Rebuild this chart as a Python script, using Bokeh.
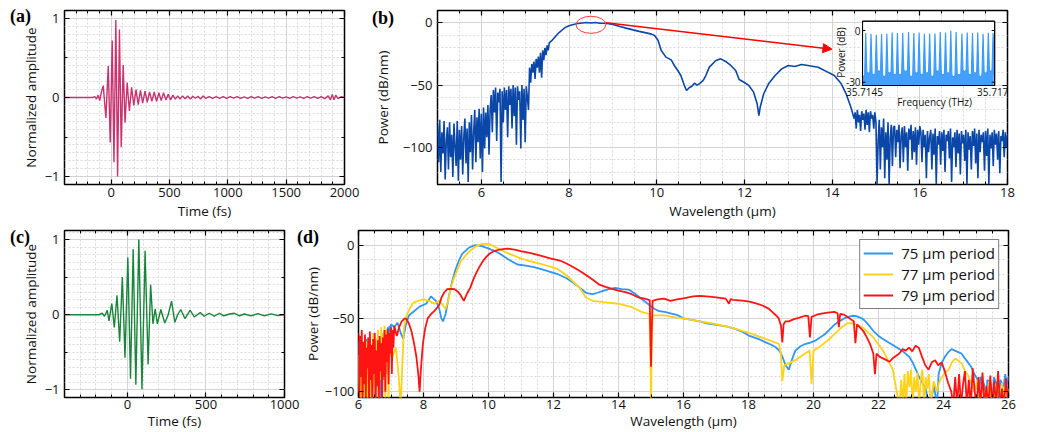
import numpy as np
from bokeh.plotting import figure
from bokeh.layouts import column, row
from bokeh.models import (LinearAxis, FixedTicker, SingleIntervalTicker, Div,
                          Arrow, NormalHead, Range1d)
from bokeh.embed import file_html
from bokeh.resources import INLINE
from bokeh.core.properties import value

# ---------------------------------------------------------------- data
# (a) time-domain field, pulse 1 (fs, normalized amplitude) - extrema
A_T = [-400, -160, -140, -126, -112, -98, -85,
       -68, -45, -25, -8, 9, 24, 40, 55, 71, 86,
       103, 119, 137, 156, 175, 194, 213, 232, 251, 270,
       290, 309, 329, 349, 369, 389, 409, 429, 449, 469,
       489, 509, 529, 550, 571, 590, 612, 634, 656, 678,
       700, 722, 744, 766, 788, 810, 840, 870, 900, 930,
       960, 990, 1020, 1050, 1080, 1110, 1140, 1170, 1200, 1230,
       1260, 1290, 1320, 1350, 1380, 1410, 1440, 1470, 1500, 1530,
       1560, 1590, 1620, 1650, 1680, 1710, 1740, 1770, 1800, 1830,
       1860, 1880, 1895, 1910, 1925, 1945, 1970, 2000]
A_AMP = [0, 0, 0.01, -0.02, 0.03, -0.04, 0.06,
         0.15, -0.26, 0.40, -0.57, 0.72, -0.82, 0.98, -1.0, 0.86, -0.63,
         0.41, -0.32, 0.19, -0.17, 0.13, -0.10, 0.10, -0.09, 0.09, -0.07,
         0.08, -0.06, 0.07, -0.05, 0.07, -0.05, 0.06, -0.04, 0.06, -0.03,
         0.04, -0.03, 0.03, -0.02, 0.02, -0.02, 0.02, -0.015, 0.02, -0.02,
         0.015, -0.01, 0.015, -0.02, 0.02, -0.01, 0.01, -0.01, 0.01, -0.01,
         0.012, -0.01, 0.01, -0.008, 0.01, -0.01, 0.008, -0.01, 0.01, -0.008,
         0.01, -0.01, 0.008, -0.008, 0.01, -0.01, 0.01, -0.008, 0.008, -0.01,
         0.01, -0.008, 0.008, -0.01, 0.01, -0.008, 0.01, -0.01, 0.012, -0.015,
         0.02, -0.03, 0.04, -0.03, 0.03, -0.015, 0.01, 0]

# (c) time-domain field, pulse 2
C_T = [-400, -180, -160, -145, -128, -117, -99, -83, -66, -49,
       -32, -15, 3, 20, 37, 54, 73, 93, 113, 132,
       148, 163, 177, 191, 213, 238, 260, 281, 302, 320,
       340, 366, 400, 426, 464, 489, 521, 553, 585, 613,
       650, 681, 713, 745, 787, 830, 872, 915, 957, 1000]
C_AMP = [0, 0, 0.02, -0.02, 0.06, -0.08, 0.15, -0.17, 0.26, -0.36,
         0.50, -0.57, 0.76, -0.85, 0.87, -0.93, 1.0, -0.99, 0.85, -0.66,
         0.40, -0.12, 0.08, -0.12, 0.07, -0.11, 0.0, 0.18, -0.10, 0.0,
         0.07, -0.05, 0.06, -0.03, 0.03, -0.02, 0.02, -0.02, 0.02, -0.015,
         0.01, 0.02, -0.015, 0.01, -0.015, 0.015, -0.015, 0.012, -0.012, 0.0]

# (b) spectrum (um, dB/nm); noisy stretches are sampled every NOISE_STEP um
NOISE_STEP = 0.025
B_NOISE1_START = 5.0
B_NOISE1 = [-82, -112, -78, -120, -88, -105, -79, -126, -95, -84, -118, -80, -108, -90, -124, -81,
            -99, -115, -79, -127, -86, -110, -83, -122, -92, -77, -113, -85, -128, -80, -104, -74,
            -118, -88, -70, -112, -76, -96, -69, -109, -73, -120, -68, -101, -72, -92, -66, -106, -70]
B_NOISE2_START = 6.225
B_NOISE2 = [-58, -88, -54, -72, -52, -95, -56, -64, -53, -128, -55, -80, -52, -70, -54, -92, -51,
            -66, -53, -85, -50, -75, -52, -98, -51, -62, -55, -101, -50, -78, -53, -96, -51, -60]
B_NOISE3_START = 7.075
B_NOISE3 = [-70, -36, -48, -33, -40, -31, -45, -29, -36, -27, -40, -24, -44, -22, -30, -20, -26,
            -18, -22, -16]
B_SMOOTH = [(7.6, -14.5), (7.65, -12.5), (7.7, -10.5), (7.75, -8.5), (7.8, -7), (7.85, -5.5),
            (7.9, -4), (7.95, -3), (8.0, -2.2), (8.1, -1.2), (8.2, -0.5), (8.3, 0), (8.4, 0.3),
            (8.5, 0), (8.6, 0.4), (8.7, -0.2), (8.8, -0.3), (8.9, -0.6), (9.0, -1.3), (9.16, -2.9),
            (9.3, -4.2), (9.46, -5.6), (9.6, -6.8), (9.76, -8), (9.88, -9), (9.95, -10.1),
            (10.03, -14), (10.1, -22), (10.21, -27.5), (10.33, -29.7), (10.4, -34.2),
            (10.48, -38.3), (10.55, -42.3), (10.63, -50.3), (10.68, -54.4), (10.74, -52.2),
            (10.8, -51), (10.86, -48.5), (10.92, -50), (10.97, -49), (11.06, -46.3),
            (11.12, -42.3), (11.2, -35.6), (11.35, -30.2), (11.46, -28.9), (11.57, -31),
            (11.69, -34.2), (11.8, -38.3), (11.88, -45.5), (11.99, -47.7), (12.1, -50.3),
            (12.21, -55.7), (12.29, -65), (12.33, -74.5), (12.36, -67.8), (12.44, -57),
            (12.55, -49), (12.7, -42.3), (12.85, -37), (13.0, -34.2), (13.15, -35), (13.3, -33.4),
            (13.45, -34.2), (13.68, -35.6), (13.9, -39.6), (14.05, -42.3), (14.2, -48.5),
            (14.32, -57), (14.44, -69.1), (14.5, -77)]
B_NOISE4_START = 14.525
B_NOISE4 = [-72, -85, -70, -80, -74, -87, -71, -78, -73, -86, -70, -82, -72, -88, -71, -77, -74,
            -85, -72, -80]
B_NOISE5_START = 15.025
B_NOISE5 = [-130, -95, -78, -118, -84, -100, -77, -125, -88, -110, -80, -130, -92, -82, -115, -84,
            -83, -108, -86, -96, -82, -117, -90, -84, -112, -83, -100, -88, -119, -85, -94, -82,
            -110, -87, -104, -84, -114, -86, -98, -83,
            -88, -112, -86, -100, -90, -125, -87, -104, -92, -86, -118, -89, -106, -85, -130, -91,
            -98, -87, -114, -88, -103, -86, -120, -90, -95, -87, -109, -85, -128, -92, -100, -88,
            -116, -86, -105, -89, -122, -87, -97, -90, -111, -86, -130, -88, -102, -91, -118, -87,
            -99, -85, -113, -89, -125, -86, -104, -90, -96, -88, -119, -87, -107, -85, -130, -90,
            -101, -88, -115, -86, -98, -89, -110, -87, -121, -91, -95, -86, -108, -88, -100, -90]

# (b) inset: frequency comb (THz, dB)
COMB_F = [35.71456, 35.71466, 35.71476, 35.71486, 35.71496, 35.71506, 35.71516, 35.71526,
          35.71537, 35.71547, 35.71557, 35.71567, 35.71577, 35.71587, 35.71597, 35.71607,
          35.71617, 35.71627, 35.71638, 35.71648, 35.71658, 35.71668, 35.71678, 35.71688,
          35.71697]
COMB_PEAK = [-1.5, -1.9, -2.4, -2.0, -1.9, -1.1, -1.5, -1.3, -0.9, -1.5, -1.1, -1.9, -1.7,
             -1.7, -0.9, -1.1, -0.2, -0.9, -1.7, -1.1, -1.5, -1.1, -1.9, -1.3, -1.5]
COMB_FLOOR = [-27, -25, -26, -24, -27, -25, -26, -26, -24, -27, -25, -26, -25, -27, -24, -26,
              -25, -27, -26, -24, -26, -25, -27, -25, -24, -26]

# (d) spectra of three poling periods (um, dB/nm)
D75_NOISE = [-66, -95, -72, -110, -68, -88, -75, -110, -70, -92, -64, -110, -78, -86, -66, -100,
             -71, -110, -69, -90, -74, -110, -65, -97, -70, -85, -63, -110, -68, -80, -60, -92,
             -62, -75, -58, -88, -56, -70, -55, -66, -54]
D77_NOISE = [-75, -104, -80, -110, -70, -96, -85, -110, -72, -100, -66, -110, -78, -92, -62,
             -110, -74, -104, -60, -95, -70, -110, -64, -88, -58, -110, -66, -92, -56, -104, -60,
             -85, -55, -110, -58, -80, -62, -110, -66, -76, -70]
D79_NOISE = [-60, -110, -62, -90, -58, -110, -66, -95, -61, -104, -70, -84, -63, -110, -59, -92,
             -68, -110, -64, -88, -60, -110, -72, -96, -65, -110, -62, -86, -67, -110, -63, -90,
             -58, -100, -61, -80, -57, -95, -60, -74, -56, -88, -58, -70, -55]
D_NOISE_START = 6.0

D75_POINTS = [(7.1, -56), (7.2, -53), (7.3, -60), (7.38, -64), (7.45, -55), (7.55, -48),
              (7.68, -45.6), (7.88, -42), (8.08, -40), (8.23, -35), (8.38, -38), (8.48, -43),
              (8.55, -50), (8.6, -52), (8.68, -47), (8.78, -35), (8.88, -25), (8.98, -17),
              (9.1, -10), (9.19, -6), (9.39, -1.8), (9.59, 0), (9.79, -0.7), (9.99, -2.2),
              (10.29, -5), (10.59, -9.4), (10.89, -13.2), (11.15, -14), (11.4, -15),
              (11.65, -16.5), (11.9, -18.2), (12.15, -20), (12.4, -22.6), (12.6, -25.5),
              (12.8, -29), (13.0, -32.5), (13.2, -33.5), (13.35, -32.5), (13.5, -31.4),
              (13.7, -30), (13.9, -29.2), (14.1, -30), (14.31, -30.3), (14.5, -33),
              (14.71, -36.8), (14.9, -40), (15.1, -43.4), (15.25, -45), (15.42, -45.6),
              (15.6, -46.5), (15.82, -47.8), (16.0, -50), (16.25, -51), (16.5, -52),
              (16.75, -53.5), (17.03, -54.4), (17.3, -55.5), (17.53, -56.6), (17.8, -59),
              (18.03, -62), (18.3, -64), (18.53, -66.4), (18.7, -68), (18.84, -69.7),
              (18.95, -72), (19.04, -76), (19.14, -82), (19.24, -85), (19.34, -78), (19.44, -72),
              (19.6, -69), (19.74, -67.5), (19.9, -66.5), (20.04, -65.4), (20.2, -63),
              (20.34, -61), (20.5, -57.5), (20.64, -54.4), (20.8, -52), (20.94, -50),
              (21.07, -49), (21.2, -48.2), (21.32, -48.5), (21.45, -49.6), (21.55, -51),
              (21.65, -53.3), (21.75, -56), (21.85, -58.8), (22.0, -62), (22.15, -64.3),
              (22.35, -67), (22.55, -69.7), (22.75, -72.5), (22.95, -76.3), (23.05, -80),
              (23.15, -85), (23.25, -90), (23.35, -93.9), (23.45, -98), (23.55, -110),
              (23.6, -110), (23.7, -95), (23.8, -110), (23.85, -88), (23.95, -80), (24.05, -76),
              (24.15, -73), (24.25, -71), (24.35, -72), (24.45, -73), (24.55, -74), (24.65, -77),
              (24.75, -80), (24.85, -83), (24.95, -88), (25.05, -92), (25.1, -98), (25.15, -90),
              (25.25, -95), (25.3, -110), (25.35, -92), (25.45, -94), (25.5, -110), (25.55, -90),
              (25.65, -96), (25.7, -110), (25.75, -92), (25.85, -97), (25.9, -88), (25.95, -95),
              (26.0, -90)]
D77_POINTS = [(7.05, -76), (7.15, -70), (7.22, -85), (7.3, -110), (7.35, -80), (7.4, -56),
              (7.48, -48), (7.58, -43), (7.7, -39), (7.83, -38), (8.0, -37), (8.18, -38),
              (8.33, -40), (8.48, -38), (8.6, -41), (8.68, -43.4), (8.76, -38), (8.83, -30),
              (8.93, -23), (9.04, -17), (9.15, -11), (9.29, -7.2), (9.45, -3.5), (9.59, -1.1),
              (9.75, 0.5), (9.89, 1.1), (10.05, 0.5), (10.19, -1.1), (10.4, -3.5), (10.59, -5.5),
              (10.99, -9), (11.3, -11), (11.6, -12.7), (12.1, -16), (12.3, -19), (12.5, -22.6),
              (12.8, -29), (13.0, -35.7), (13.2, -38), (13.6, -39), (14.0, -40), (14.41, -42.3),
              (14.71, -45.6), (14.95, -47), (14.98, -70), (15.0, -110), (15.02, -70),
              (15.05, -48), (15.42, -48), (15.82, -49.6), (16.0, -50), (16.5, -52), (17.03, -54),
              (17.53, -56.6), (18.03, -60), (18.53, -64), (18.94, -67.5), (19.0, -75),
              (19.04, -92.8), (19.1, -82), (19.24, -80.7), (19.44, -78.5), (19.74, -74),
              (19.88, -72), (19.94, -95), (20.0, -72), (20.24, -68.6), (20.54, -63),
              (20.84, -56.6), (21.04, -53.3), (21.24, -53.3), (21.54, -56.6), (21.84, -63),
              (22.14, -72), (22.44, -85), (22.64, -110), (22.7, -92), (22.75, -110), (22.8, -88),
              (22.85, -110), (22.9, -86), (22.95, -97), (23.0, -85), (23.05, -110), (23.1, -90),
              (23.15, -100), (23.2, -87), (23.25, -110), (23.3, -92), (23.35, -85), (23.4, -110),
              (23.45, -90), (23.5, -98), (23.55, -88), (23.6, -110), (23.7, -93), (23.8, -100),
              (23.86, -94), (23.95, -90), (24.05, -87), (24.16, -85), (24.26, -80),
              (24.36, -77.4), (24.46, -79), (24.56, -80.7), (24.66, -86), (24.76, -89),
              (24.86, -95), (24.96, -100), (25.05, -92), (25.1, -110), (25.2, -95), (25.3, -110),
              (25.4, -93), (25.5, -110), (25.6, -96), (25.7, -110), (25.8, -94), (25.9, -110),
              (26.0, -98)]
D79_POINTS = [(7.18, -62), (7.25, -56), (7.33, -52), (7.42, -50), (7.48, -50.5), (7.56, -54),
              (7.63, -58.8), (7.7, -66), (7.78, -76), (7.84, -88), (7.88, -100), (7.92, -85),
              (7.98, -67.5), (8.05, -57), (8.13, -50), (8.23, -47), (8.33, -45), (8.48, -41),
              (8.55, -36), (8.63, -32.5), (8.73, -30), (8.83, -29.8), (8.95, -30), (9.04, -31.4),
              (9.14, -34), (9.24, -38), (9.34, -33), (9.44, -29), (9.54, -23), (9.64, -18.2),
              (9.74, -14), (9.84, -10.5), (9.94, -7.8), (10.04, -5.7), (10.15, -4.3),
              (10.29, -3.3), (10.45, -2.7), (10.59, -2.4), (10.8, -3), (10.99, -4), (11.3, -5.5),
              (11.6, -7.2), (11.9, -9), (12.2, -10.5), (12.4, -12.5), (12.6, -14.9),
              (12.8, -17.5), (13.0, -20.4), (13.2, -23.5), (13.41, -27), (13.6, -28.5),
              (13.8, -29.8), (14.0, -31), (14.21, -32), (14.41, -33.5), (14.61, -35.7),
              (14.8, -36.5), (14.96, -37.5), (14.98, -60), (15.0, -83), (15.02, -60),
              (15.05, -38), (15.2, -37), (15.4, -36.5), (15.6, -38), (15.8, -37), (16.0, -36.4),
              (16.3, -35), (16.5, -34.6), (16.8, -35.2), (17.0, -35.7), (17.3, -36.5),
              (17.4, -40), (17.45, -36.8), (17.53, -37.3), (17.8, -37.8), (18.03, -38.6),
              (18.23, -39.8), (18.43, -41.2), (18.63, -43.5), (18.73, -45.6), (18.85, -48),
              (18.93, -50), (19.0, -55), (19.04, -66.4), (19.08, -54), (19.14, -52),
              (19.24, -52), (19.4, -50.5), (19.54, -49.6), (19.74, -48.2), (19.84, -48.5),
              (19.89, -63), (19.94, -49), (20.1, -47.5), (20.24, -46.7), (20.44, -46),
              (20.64, -45.6), (20.74, -46.5), (20.78, -56), (20.82, -47), (20.94, -47.5),
              (21.04, -48.9), (21.14, -50.5), (21.24, -52), (21.29, -67), (21.34, -54),
              (21.44, -56.5), (21.54, -58.8), (21.64, -63), (21.74, -67.5), (21.84, -74),
              (21.89, -88), (21.94, -74), (22.04, -76.3), (22.2, -78), (22.34, -79.6),
              (22.45, -77), (22.64, -74), (22.74, -71), (22.84, -72), (22.94, -70),
              (23.04, -72.5), (23.14, -68.6), (23.24, -70), (23.34, -76.3), (23.44, -82),
              (23.54, -85), (23.64, -80), (23.74, -78.5), (23.84, -82), (23.94, -80),
              (24.04, -86), (24.14, -93.9), (24.24, -100), (24.3, -110), (24.36, -90),
              (24.42, -110), (24.48, -88), (24.54, -110), (24.6, -95), (24.66, -86),
              (24.72, -110), (24.78, -92), (24.84, -110), (24.9, -84), (24.96, -100),
              (25.02, -110), (25.08, -90), (25.14, -110), (25.2, -87), (25.26, -110),
              (25.32, -96), (25.38, -110), (25.44, -89), (25.5, -110), (25.56, -93),
              (25.62, -110), (25.68, -86), (25.74, -110), (25.8, -98), (25.86, -110),
              (25.92, -91), (26.0, -110)]
D_LABELS = ["75 \u03bcm period", "77 \u03bcm period", "79 \u03bcm period"]
PANEL_LETTERS = ["(a)", "(b)", "(c)", "(d)"]

# ---------------------------------------------------------------- style
FONT = "Open Sans"
TICK_FS = "13px"
LAB_FS = "13.5px"
TXT = "#111111"
COL_A = "#C9336F"
COL_B = "#0A47A8"
COL_C = "#17853A"
COL_INSET = "#3A9BFF"
D_COLORS = ["#2F96F3", "#FFD21A", "#FF1414"]
GRID = "#d4d4d4"
GRID_MINOR = "#d9d9d9"
LETTER_POS = [(10, 7), (372, 9), (10, 228), (297, 228)]   # page pixels (left, top)


def seg(start, vals):
    return [round(start + i * NOISE_STEP, 4) for i in range(len(vals))]


def style_axis(ax, show, label=None, tick_standoff=3, label_standoff=2):
    ax.axis_line_color = None
    ax.major_tick_in = 5
    ax.major_tick_out = 0
    ax.minor_tick_in = 3
    ax.minor_tick_out = 0
    ax.major_tick_line_color = "black"
    ax.minor_tick_line_color = "black"
    ax.major_tick_line_width = 1.2
    ax.minor_tick_line_width = 1
    ax.major_label_text_font = FONT
    if show:
        ax.major_label_text_color = TXT
        ax.major_label_text_font_size = TICK_FS
        ax.major_label_standoff = tick_standoff
    else:
        ax.major_label_text_color = None
        ax.major_label_text_font_size = "0px"
        ax.major_label_standoff = 0
    if label:
        ax.axis_label = label
        ax.axis_label_text_font = FONT
        ax.axis_label_text_font_size = LAB_FS
        ax.axis_label_text_font_style = "normal"
        ax.axis_label_text_color = TXT
        ax.axis_label_standoff = label_standoff


def make_panel(width, height, xr, yr, xticker, yticker, ygrid_ticker, borders,
               xlabel, ylabel, ytick_standoff=5, ylabel_standoff=2,
               xtick_standoff=3, xlabel_standoff=2):
    p = figure(width=width, height=height, x_range=xr, y_range=yr,
               output_backend="svg", toolbar_location=None,
               min_border_left=borders[0], min_border_right=borders[1],
               min_border_top=borders[2], min_border_bottom=borders[3])
    p.outline_line_color = "black"
    p.outline_line_width = 1.5
    p.background_fill_color = "white"
    p.border_fill_color = "white"
    p.xaxis.ticker = xticker
    p.yaxis.ticker = yticker
    style_axis(p.xaxis[0], True, xlabel, xtick_standoff, xlabel_standoff)
    style_axis(p.yaxis[0], True, ylabel, ytick_standoff, ylabel_standoff)
    top = LinearAxis(ticker=xticker)
    style_axis(top, False)
    p.add_layout(top, "above")
    right = LinearAxis(ticker=yticker)
    style_axis(right, False)
    p.add_layout(right, "right")
    p.xgrid.grid_line_color = GRID
    p.xgrid.minor_grid_line_color = GRID_MINOR
    p.xgrid.minor_grid_line_dash = "2 2"
    p.ygrid.ticker = ygrid_ticker
    p.ygrid.grid_line_color = GRID
    p.ygrid.minor_grid_line_color = GRID_MINOR
    p.ygrid.minor_grid_line_dash = "2 2"
    return p


def letter_div(text, left, top):
    css = (":host { position: absolute !important; left: %dpx !important; top: %dpx !important;"
           " z-index: 20; margin: 0; padding: 0; }" % (left, top))
    html = ("<span style=\"font-family: 'Liberation Serif', 'Times New Roman', serif !important;"
            " font-weight: bold; font-size: 18px; line-height: 1; color: black;\">%s</span>" % text)
    return Div(text=html, stylesheets=[css], width=30, height=22)


amp_grid = FixedTicker(ticks=[-1, 0, 1], minor_ticks=[round(v, 2) for v in np.arange(-1.1, 1.15, 0.1)])

# ---------------------------------------------------------------- (a)
pa = make_panel(370, 225, (-400, 2000), (-1.1, 1.1),
                SingleIntervalTicker(interval=500, num_minor_ticks=5),
                FixedTicker(ticks=[-1, 0, 1], minor_ticks=[-0.5, 0.5]),
                amp_grid, (64, 26, 10, 41), "Time (fs)", "Normalized amplitude")
pa.line(A_T, A_AMP, line_color=COL_A, line_width=1.4)

# ---------------------------------------------------------------- (b)
b_wl = (seg(B_NOISE1_START, B_NOISE1) + seg(B_NOISE2_START, B_NOISE2) + seg(B_NOISE3_START, B_NOISE3)
        + [w for w, _ in B_SMOOTH] + seg(B_NOISE4_START, B_NOISE4) + seg(B_NOISE5_START, B_NOISE5))
b_db = (B_NOISE1 + B_NOISE2 + B_NOISE3 + [d for _, d in B_SMOOTH] + B_NOISE4 + B_NOISE5)

db_grid = FixedTicker(ticks=[-100, -50, 0], minor_ticks=list(range(-130, 11, 10)))
pb = make_panel(676, 225, (5, 18), (-130, 10),
                SingleIntervalTicker(interval=2, num_minor_ticks=4),
                FixedTicker(ticks=[-100, -50, 0]),
                db_grid, (59, 39, 10, 41), "Wavelength (\u03bcm)", "Power (dB/nm)",
                ylabel_standoff=8)
pb.line(b_wl, b_db, line_color=COL_B, line_width=1.6)

# highlighted region and arrow towards the inset
HL_X, HL_Y, HL_W, HL_H = 8.5, -1.5, 0.68, 13.7
pb.ellipse(x=[HL_X], y=[HL_Y], width=[HL_W], height=[HL_H], fill_color=None,
           line_color="#ff3b3b", line_width=1)

# inset placed in a sub-box of the frame (fractions of the frame)
INSET_BOX = (0.7457, 0.9775, 0.569, 0.9385)
INSET_X = (35.7145, 35.717)
INSET_Y = (-31.9, 5.4)
fx0, fx1, fy0, fy1 = INSET_BOX
sx = (INSET_X[1] - INSET_X[0]) / (fx1 - fx0)
sy = (INSET_Y[1] - INSET_Y[0]) / (fy1 - fy0)
pb.extra_x_ranges = {"ix": Range1d(INSET_X[0] - fx0 * sx, INSET_X[0] - fx0 * sx + sx)}
pb.extra_y_ranges = {"iy": Range1d(INSET_Y[0] - fy0 * sy, INSET_Y[0] - fy0 * sy + sy)}
px_x = sx / 578.0   # inset x-units per pixel
px_y = sy / 174.0   # inset y-units per pixel

arrow_end_x = 5 + (fx0 - 31.0 / 578.0) * 13
arrow_end_y = -130 + 0.7776 * 140
pb.add_layout(Arrow(end=NormalHead(size=9, fill_color="red", line_color="red", line_width=1),
                    x_start=HL_X + HL_W / 2, y_start=HL_Y + 1.6, x_end=arrow_end_x, y_end=arrow_end_y,
                    line_color="red", line_width=1.5))

pb.quad(left=[INSET_X[0]], right=[INSET_X[1]], bottom=[INSET_Y[0]], top=[INSET_Y[1]],
        fill_color="white", line_color="black", line_width=1,
        x_range_name="ix", y_range_name="iy")
HW = 0.00002
cx, cy = [INSET_X[0] + 0.000004], [COMB_FLOOR[0]]
for i, (f, pk) in enumerate(zip(COMB_F, COMB_PEAK)):
    cx += [f - HW, f, f + HW]
    cy += [COMB_FLOOR[i] + 1, pk, COMB_FLOOR[i + 1] + 1]
    nxt = COMB_F[i + 1] if i + 1 < len(COMB_F) else INSET_X[1] - 0.000004
    cx.append((f + nxt) / 2)
    cy.append(COMB_FLOOR[i + 1])
pb.varea(x=cx, y1=[INSET_Y[0]] * len(cx), y2=cy, fill_color=COL_INSET, fill_alpha=0.95,
         x_range_name="ix", y_range_name="iy")
pb.line(cx, cy, line_color=COL_INSET, line_width=1.2, x_range_name="ix", y_range_name="iy")
pb.quad(left=[INSET_X[0]], right=[INSET_X[1]], bottom=[INSET_Y[0]], top=[INSET_Y[1]],
        fill_color=None, line_color="black", line_width=1,
        x_range_name="ix", y_range_name="iy")
for tv in (0, -30):
    pb.segment(x0=[INSET_X[0]], x1=[INSET_X[0] + 3 * px_x], y0=[tv], y1=[tv],
               line_color="black", line_width=1, x_range_name="ix", y_range_name="iy")
    pb.segment(x0=[INSET_X[1]], x1=[INSET_X[1] - 3 * px_x], y0=[tv], y1=[tv],
               line_color="black", line_width=1, x_range_name="ix", y_range_name="iy")
ISZ = "10px"
pb.text(x=[INSET_X[0] - 2 * px_x] * 2, y=[0, -30], text=["0", "-30"], text_align="right",
        text_baseline="middle", text_font=value(FONT), text_font_size=ISZ, text_color=TXT,
        x_range_name="ix", y_range_name="iy")
pb.text(x=[INSET_X[0] + 2 * px_x, INSET_X[1] - 2 * px_x], y=[INSET_Y[0] - 7 * px_y] * 2,
        text=["35.7145", "35.717"], text_align="center", text_baseline="middle",
        text_font=value(FONT), text_font_size=ISZ, text_color=TXT,
        x_range_name="ix", y_range_name="iy")
pb.text(x=[INSET_X[0] + 0.545 * (INSET_X[1] - INSET_X[0])], y=[INSET_Y[0] - 17 * px_y],
        text=["Frequency (THz)"], text_align="center", text_baseline="middle",
        text_font=value(FONT), text_font_size=ISZ, text_color=TXT,
        x_range_name="ix", y_range_name="iy")
pb.text(x=[INSET_X[0] - 22 * px_x], y=[-12.8], text=["Power (dB)"], angle=np.pi / 2,
        text_align="center", text_baseline="middle", text_font=value(FONT),
        text_font_size=ISZ, text_color=TXT, x_range_name="ix", y_range_name="iy")

# ---------------------------------------------------------------- (c)
pc = make_panel(300, 207, (-400, 1000), (-1.1, 1.12),
                SingleIntervalTicker(interval=500, num_minor_ticks=5),
                FixedTicker(ticks=[-1, 0, 1], minor_ticks=[-0.5, 0.5]),
                amp_grid, (64, 16, 5, 28), "Time (fs)", "Normalized amplitude",
                xtick_standoff=2, xlabel_standoff=0)
pc.line(C_T, C_AMP, line_color=COL_C, line_width=1.4)

# ---------------------------------------------------------------- (d)
db_grid_d = FixedTicker(ticks=[-100, -50, 0], minor_ticks=list(range(-100, 11, 10)))
pd_ = make_panel(746, 207, (6, 26), (-104, 10),
                 SingleIntervalTicker(interval=2, num_minor_ticks=4),
                 FixedTicker(ticks=[-100, -50, 0]),
                 db_grid_d, (44, 38, 5, 28), "Wavelength (\u03bcm)", "Power (dB/nm)",
                 ytick_standoff=4, ylabel_standoff=0, xtick_standoff=2, xlabel_standoff=0)
for noise, pts, col, lab in zip((D75_NOISE, D77_NOISE, D79_NOISE),
                                (D75_POINTS, D77_POINTS, D79_POINTS), D_COLORS, D_LABELS):
    xs = seg(D_NOISE_START, noise) + [w for w, _ in pts]
    ys = noise + [d for _, d in pts]
    pd_.line(xs, ys, line_color=col, line_width=1.8, legend_label=lab)
lg = pd_.legend[0]
lg.location = "top_right"
lg.border_line_color = "black"
lg.border_line_width = 1.5
lg.background_fill_color = "white"
lg.background_fill_alpha = 1
lg.label_text_font = FONT
lg.label_text_font_size = "15px"
lg.label_text_color = TXT
lg.glyph_width = 30
lg.glyph_height = 18
lg.label_height = 18
lg.label_standoff = 8
lg.padding = 3
lg.spacing = 1
lg.margin = 9

letters = [letter_div(t, x, y) for t, (x, y) in zip(PANEL_LETTERS, LETTER_POS)]
layout = column(row(pa, pb), row(pc, pd_), *letters)
open("out.html", "w").write(file_html(layout, INLINE))
